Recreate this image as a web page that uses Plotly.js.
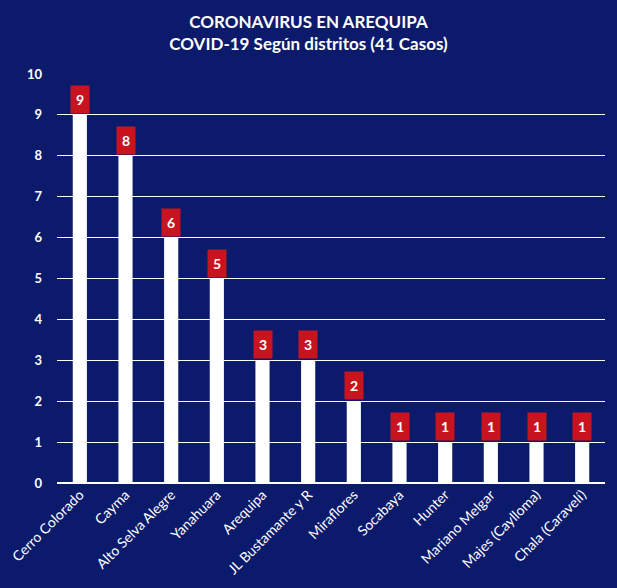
<!DOCTYPE html>
<html>
<head>
<meta charset="utf-8">
<script src="https://cdn.plot.ly/plotly-3.0.1.min.js"></script>
<style>
  body { margin: 0; background: #0b1a6b; }
  #chart { width: 617px; height: 588px; }
</style>
</head>
<body>
<div id="chart"></div>
<script>
// districts and case counts
const districts = ["Cerro Colorado", "Cayma", "Alto Selva Alegre", "Yanahuara", "Arequipa",
  "JL Bustamante y R", "Miraflores", "Socabaya", "Hunter", "Mariano Melgar",
  "Majes (Caylloma)", "Chala (Caravelí)"];
const cases = [9, 8, 6, 5, 3, 3, 2, 1, 1, 1, 1, 1];
const yTicks = [0, 1, 2, 3, 4, 5, 6, 7, 8, 9, 10];

const navy = "#0b1a6b";
const red = "#c8141e";

const data = [{
  type: "bar",
  x: districts,
  y: cases,
  marker: { color: "#ffffff" },
  hoverinfo: "x+y"
}];

// red value boxes on top of each bar
const labels = districts.map((d, i) => ({
  x: d, y: cases[i], yanchor: "bottom", yshift: 1,
  text: "<b>" + cases[i] + "</b>",
  showarrow: false,
  bgcolor: red,
  borderpad: 5,
  font: { color: "#ffffff", size: 14, family: "Lato, sans-serif" }
}));

const layout = {
  width: 617, height: 588,
  paper_bgcolor: navy,
  plot_bgcolor: navy,
  margin: { l: 57, r: 12, t: 74, b: 105 },
  title: {
    text: "<b>CORONAVIRUS EN AREQUIPA<br>COVID-19 Según distritos (41 Casos)</b>",
    font: { color: "#ffffff", size: 17, family: "Lato, sans-serif" },
    x: 0.5, y: 0.953, yanchor: "top"
  },
  bargap: 0.69,
  showlegend: false,
  xaxis: {
    tickangle: -45,
    tickfont: { color: "#ffffff", size: 14, family: "Lato, sans-serif" },
    showgrid: false,
    showline: false,
    ticks: ""
  },
  yaxis: {
    range: [0, 10],
    tickvals: yTicks,
    tickfont: { color: "#ffffff", size: 13, family: "Lato, sans-serif", weight: "bold" },
    gridcolor: "#ffffff",
    gridwidth: 1,
    zeroline: true,
    zerolinecolor: "#ffffff",
    zerolinewidth: 1.5,
    ticks: "",
    ticklabelstandoff: 14
  },
  annotations: labels
};

Plotly.newPlot("chart", data, layout, { displayModeBar: false });
</script>
</body>
</html>
